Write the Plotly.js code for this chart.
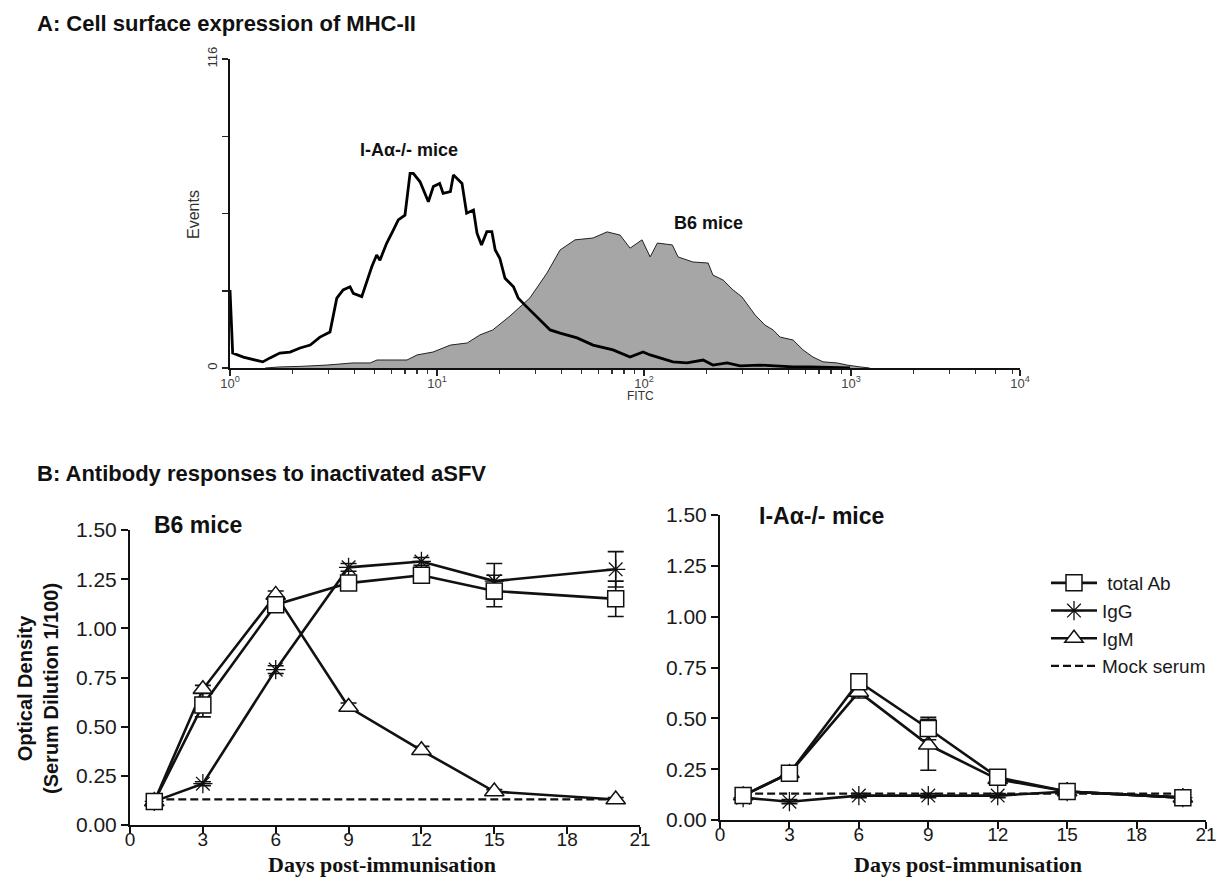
<!DOCTYPE html>
<html>
<head>
<meta charset="utf-8">
<script src="https://cdn.plot.ly/plotly-3.0.1.min.js"></script>
<style>html,body{margin:0;padding:0;background:#fff;}#chart{width:1221px;height:880px;}</style>
</head>
<body>
<div id="chart"></div>
<script>
// ---------- Panel A: flow cytometry histograms (FITC intensity vs events) ----------
const fitcIA = [1.00,1.02,1.03,1.16,1.35,1.44,1.56,1.74,1.95,2.18,2.44,2.72,3.04,3.28,3.52,3.80,3.94,4.33,4.84,5.11,5.30,5.71,6.15,6.50,7.00,7.41,7.68,8.28,9.08,9.60,10.3,10.7,11.6,12.0,13.2,13.9,15.0,15.6,16.4,17.4,18.4,19.1,20.1,21.3,23.4,24.7,26.6,29.7,33.2,35.2,39.3,47.5,56.7,70.8,85.6,98.9,107,120,138,161,193,215,252,291,363,525,634,989];
const countsIA = [29.3,12.4,5.6,4.1,3.0,2.3,3.8,5.6,6.0,7.5,8.6,11.6,13.5,26.2,29.3,30.5,28.0,26.8,38.0,42.4,40.5,46.8,51.8,55.6,57.4,73.1,73.1,69.9,62.4,68.1,69.3,65.6,66.2,72.5,69.3,58.1,59.3,50.6,46.2,51.2,51.2,44.3,41.2,33.7,30.5,26.2,23.6,19.9,16.1,14.3,13.1,11.3,8.6,6.8,4.1,6.0,4.9,3.8,2.3,1.9,3.0,1.1,1.9,0.8,1.1,0.4,0.4,0];
const fitcB6 = [1.48,1.74,2.18,2.94,3.93,4.75,5.13,7.16,8.01,9.57,11.6,14.0,16.1,18.6,22.5,28.1,34.0,39.3,46.4,56.7,66.3,76.6,85.6,97.8,107,116,137,146,172,204,215,241,269,297,344,384,420,454,525,586,655,732,856,957,1105,1230];
const countsB6 = [0,0.4,0.6,1.1,1.9,1.9,3.0,3.0,4.9,6.0,8.6,9.4,12.4,14.3,19.5,26.3,35.7,44.3,48.1,48.8,51.1,49.9,45.0,48.1,41.7,46.9,46.2,41.7,39.8,39.4,34.9,33.0,29.3,26.7,19.9,16.1,14.3,11.6,10.5,6.8,4.1,2.3,1.9,1.1,0.4,0];
const fitcTickVals = [1,10,100,1000,6546];
const fitcTickText = ['10<sup>0</sup>','10<sup>1</sup>','10<sup>2</sup>','10<sup>3</sup>','10<sup>4</sup>'];
const fitcMinorVals = [2,3,4,5,6,7,8,9,20,30,40,50,60,70,80,90,200,300,400,500,600,700,800,900,2000,3000,4000,5000,6000];
const eventTickVals = [0,116];
const eventMinorVals = [29,58,87];

// ---------- Panel B: ELISA optical density ----------
const days = [1,3,6,9,12,15,20];
const b6Total    = [0.12,0.61,1.12,1.23,1.27,1.19,1.15];
const b6TotalErr = [0.01,0.06,0.02,0.02,0.02,0.08,0.09];
const b6IgG      = [0.12,0.21,0.79,1.31,1.34,1.24,1.30];
const b6IgGErr   = [0.01,0.01,0.02,0.02,0.02,0.09,0.09];
const b6IgM      = [0.12,0.69,1.17,0.60,0.38,0.17,0.13];
const b6IgMErr   = [0.01,0.02,0.02,0.02,0.02,0.01,0.01];
const b6Mock     = [0.13,0.13,0.13,0.13,0.13,0.13,0.13];

const iaTotal    = [0.12,0.23,0.68,0.45,0.21,0.14,0.11];
const iaTotalErr = [0.01,0.01,0.03,0.055,0.02,0.01,0.01];
const iaIgG      = [0.11,0.09,0.12,0.12,0.12,0.14,0.11];
const iaIgGErr   = [0.01,0.01,0.01,0.01,0.01,0.01,0.01];
const iaIgM      = [0.12,0.23,0.63,0.37,0.20,0.14,0.11];
const iaIgMErr   = [0.01,0.01,0.03,0.125,0.02,0.01,0.01];
const iaMock     = [0.13,0.13,0.13,0.13,0.13,0.13,0.13];

const seriesNames = [' total Ab','IgG','IgM','Mock serum'];
const dayTicks = [0,3,6,9,12,15,18,21];
const odTicks = [0,0.25,0.5,0.75,1,1.25,1.5];

const W = 1221, H = 880;
const px = v => v / W;
const py = v => 1 - v / H;
const SANS = 'Liberation Sans, Arial, sans-serif';
const NARROW = 'Liberation Sans Narrow, Liberation Sans, Arial, sans-serif';
const SERIF = 'Liberation Serif, Times New Roman, serif';

function errObj(arr) {
  return {type: 'data', array: arr, visible: true, color: '#111', thickness: 1.6, width: 8};
}
function panelTraces(xa, ya, total, totalErr, igg, iggErr, igm, igmErr, mock, show) {
  return [
    {x: days, y: mock, xaxis: xa, yaxis: ya, type: 'scatter', mode: 'lines', name: seriesNames[3],
     line: {color: '#111', width: 2.2, dash: '8px,4px'}, showlegend: show, legendrank: 4},
    {x: days, y: igg, xaxis: xa, yaxis: ya, type: 'scatter', mode: 'lines+markers', name: seriesNames[1],
     error_y: errObj(iggErr),
     line: {color: '#111', width: 2.6},
     marker: {symbol: 'asterisk-open', size: 16, color: '#111', line: {color: '#111', width: 1.3}},
     showlegend: show, legendrank: 2},
    {x: days, y: igm, xaxis: xa, yaxis: ya, type: 'scatter', mode: 'lines+markers', name: seriesNames[2],
     error_y: errObj(igmErr),
     line: {color: '#111', width: 2.6},
     marker: {symbol: 'triangle-up', size: 17, color: '#fff', line: {color: '#111', width: 1.5}},
     showlegend: show, legendrank: 3},
    {x: days, y: total, xaxis: xa, yaxis: ya, type: 'scatter', mode: 'lines+markers', name: seriesNames[0],
     error_y: errObj(totalErr),
     line: {color: '#111', width: 2.6},
     marker: {symbol: 'square', size: 16, color: '#fff', line: {color: '#111', width: 1.5}},
     showlegend: show, legendrank: 1}
  ];
}

const traces = [
  {x: fitcB6, y: countsB6, xaxis: 'x', yaxis: 'y', type: 'scatter', mode: 'lines', fill: 'tozeroy',
   fillcolor: '#a6a6a6', line: {color: '#222', width: 1}, showlegend: false, hoverinfo: 'skip'},
  {x: fitcIA, y: countsIA, xaxis: 'x', yaxis: 'y', type: 'scatter', mode: 'lines',
   line: {color: '#000', width: 2.8}, showlegend: false, hoverinfo: 'skip'}
].concat(
  panelTraces('x2', 'y2', b6Total, b6TotalErr, b6IgG, b6IgGErr, b6IgM, b6IgMErr, b6Mock, false),
  panelTraces('x3', 'y3', iaTotal, iaTotalErr, iaIgG, iaIgGErr, iaIgM, iaIgMErr, iaMock, true)
);

const odAxis = {
  range: [0, 1.5], tickvals: odTicks, tickformat: '.2f',
  showline: true, linecolor: '#111', linewidth: 2, ticks: 'outside', ticklen: 7, tickwidth: 2,
  tickcolor: '#111', showgrid: false, zeroline: false,
  tickfont: {family: SANS, size: 21, color: '#1a1a1a'}, fixedrange: true
};
const dayAxis = {
  range: [0, 21], tickvals: dayTicks, showline: true, linecolor: '#111', linewidth: 2,
  ticks: 'outside', ticklen: 7, tickwidth: 2, tickcolor: '#111', showgrid: false, zeroline: false,
  ticklabelstandoff: -11,
  tickfont: {family: SANS, size: 19, color: '#1a1a1a'}, fixedrange: true
};

const layout = {
  width: W, height: H,
  margin: {l: 0, r: 0, t: 0, b: 0},
  paper_bgcolor: '#fff', plot_bgcolor: 'rgba(0,0,0,0)',
  showlegend: true,
  legend: {x: px(1046), y: py(564), xanchor: 'left', yanchor: 'top', bgcolor: 'rgba(0,0,0,0)',
           font: {family: SANS, size: 19, color: '#1a1a1a'}, traceorder: 'normal', itemwidth: 46,
           tracegroupgap: 0},
  xaxis: {
    type: 'log', domain: [px(230), px(1020)], range: [0, Math.log10(6546)], anchor: 'y',
    tickmode: 'array', tickvals: fitcTickVals, ticktext: fitcTickText,
    showline: true, linecolor: '#111', linewidth: 2, ticks: 'outside', ticklen: 6, tickwidth: 1.5,
    tickcolor: '#222', showgrid: false, zeroline: false, ticklabelstandoff: -4,
    tickfont: {family: SANS, size: 13, color: '#444'},
    minor: {tickmode: 'array', tickvals: fitcMinorVals, ticks: 'outside', ticklen: 4, tickwidth: 1.2, tickcolor: '#333', showgrid: false},
    fixedrange: true
  },
  yaxis: {
    domain: [py(368), py(59)], range: [0, 116], anchor: 'x',
    tickmode: 'array', tickvals: eventTickVals, tickangle: -90,
    showline: true, linecolor: '#111', linewidth: 2, ticks: 'outside', ticklen: 6, tickwidth: 1.5,
    tickcolor: '#222', showgrid: false, zeroline: false,
    minor: {tickmode: 'array', tickvals: eventMinorVals, ticks: 'outside', ticklen: 6, tickwidth: 1.5, tickcolor: '#222', showgrid: false},
    tickfont: {family: SANS, size: 13, color: '#333'}, fixedrange: true
  },
  xaxis2: Object.assign({}, dayAxis, {domain: [px(130), px(640)], anchor: 'y2'}),
  yaxis2: Object.assign({}, odAxis, {domain: [py(825), py(530)], anchor: 'x2'}),
  xaxis3: Object.assign({}, dayAxis, {domain: [px(720), px(1206)], anchor: 'y3'}),
  yaxis3: Object.assign({}, odAxis, {domain: [py(820), py(515)], anchor: 'x3'}),
  annotations: [
    {text: '<b>A: Cell surface expression of MHC-II</b>', xref: 'paper', yref: 'paper', x: px(35), y: py(24),
     xanchor: 'left', yanchor: 'middle', showarrow: false, font: {family: SANS, size: 22, color: '#111'}},
    {text: '<b>B: Antibody responses to inactivated aSFV</b>', xref: 'paper', yref: 'paper', x: px(35), y: py(473),
     xanchor: 'left', yanchor: 'middle', showarrow: false, font: {family: SANS, size: 22, color: '#111'}},
    {text: '<b>I-Aα-/- mice</b>', xref: 'paper', yref: 'paper', x: px(409), y: py(150),
     xanchor: 'center', yanchor: 'middle', showarrow: false, font: {family: SANS, size: 18, color: '#111'}},
    {text: '<b>B6 mice</b>', xref: 'paper', yref: 'paper', x: px(708), y: py(223),
     xanchor: 'center', yanchor: 'middle', showarrow: false, font: {family: SANS, size: 18, color: '#111'}},
    {text: 'Events', xref: 'paper', yref: 'paper', x: px(193), y: py(215), textangle: -90,
     xanchor: 'center', yanchor: 'middle', showarrow: false, font: {family: NARROW, size: 16, color: '#333'}},
    {text: 'FITC', xref: 'paper', yref: 'paper', x: px(640), y: py(396),
     xanchor: 'center', yanchor: 'middle', showarrow: false, font: {family: SANS, size: 12, color: '#333'}},
    {text: '<b>B6 mice</b>', xref: 'paper', yref: 'paper', x: px(152), y: py(525),
     xanchor: 'left', yanchor: 'middle', showarrow: false, font: {family: SANS, size: 23, color: '#111'}},
    {text: '<b>I-Aα-/- mice</b>', xref: 'paper', yref: 'paper', x: px(757), y: py(516),
     xanchor: 'left', yanchor: 'middle', showarrow: false, font: {family: SANS, size: 23, color: '#111'}},
    {text: '<b>Optical Density<br>(Serum Dilution 1/100)</b>', xref: 'paper', yref: 'paper', x: px(38), y: py(689),
     textangle: -90, xanchor: 'center', yanchor: 'middle', showarrow: false,
     font: {family: SANS, size: 20, color: '#111'}},
    {text: '<b>Days post-immunisation</b>', xref: 'paper', yref: 'paper', x: px(382), y: py(864),
     xanchor: 'center', yanchor: 'middle', showarrow: false, font: {family: SERIF, size: 22, color: '#111'}},
    {text: '<b>Days post-immunisation</b>', xref: 'paper', yref: 'paper', x: px(968), y: py(864),
     xanchor: 'center', yanchor: 'middle', showarrow: false, font: {family: SERIF, size: 22, color: '#111'}}
  ]
};

Plotly.newPlot('chart', traces, layout, {staticPlot: true, displayModeBar: false});
</script>
</body>
</html>
